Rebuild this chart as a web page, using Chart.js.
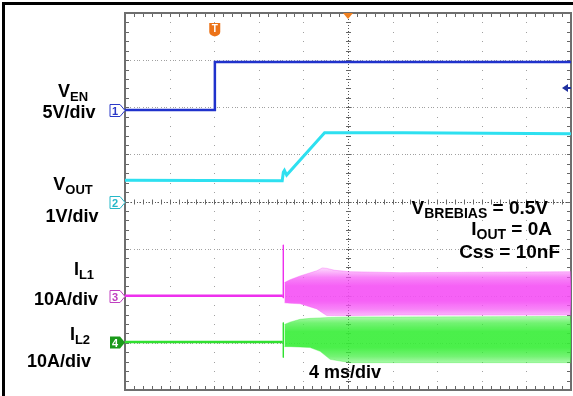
<!DOCTYPE html>
<html>
<head>
<meta charset="utf-8">
<script src="https://cdn.jsdelivr.net/npm/chart.js@4.4.1/dist/chart.umd.min.js"></script>
<style>
  html, body { margin: 0; padding: 0; background: #fff; }
  #wrap { width: 573px; height: 396px; }
</style>
</head>
<body>
<div id="wrap"><canvas id="chart" width="573" height="396"></canvas></div>
<script>
// time axis: 4 ms/div, 10 divisions
var TIME_MS = [0, 40];
var DIVS_Y = 8;

// channel 1: V_EN, 5 V/div
var VEN_T = [0, 8.05, 8.06, 40];
var VEN_V = [0, 0, 5.1, 5.1];

// channel 2: V_OUT, 1 V/div
var VOUT_T = [0, 14.1, 14.2, 14.3, 14.5, 17.9, 25, 40];
var VOUT_V = [0.45, 0.44, 0.62, 0.66, 0.56, 1.46, 1.46, 1.44];

// channel 3: I_L1, 10 A/div (flat part, spike, switching envelope)
var IL1_T = [0, 14.15];
var IL1_A = [0, 0];
var IL1_SPIKE_T = [14.2, 14.2];
var IL1_SPIKE_A = [10.8, -0.5];
var IL1_ENV_T  = [14.3, 14.8, 15.7, 17.2, 17.7, 18.1, 18.8, 20.2, 24.7, 40];
var IL1_HIGH_A = [2.8, 3.4, 4.2, 5.3, 5.9, 5.8, 5.4, 5.1, 4.9, 5.1];
var IL1_LOW_A  = [-1.5, -1.6, -1.7, -2.8, -3.6, -4.2, -4.2, -4.2, -4.1, -4.1];

// channel 4: I_L2, 10 A/div
var IL2_T = [0, 14.15];
var IL2_A = [0, 0];
var IL2_SPIKE_T = [14.2, 14.2];
var IL2_SPIKE_A = [4.1, -3.3];
var IL2_ENV_T  = [14.3, 14.8, 15.7, 16.6, 17.5, 18.4, 20.2, 24.7, 40];
var IL2_HIGH_A = [3.7, 4.2, 4.8, 5.0, 5.1, 5.2, 5.3, 5.3, 5.4];
var IL2_LOW_A  = [-1.0, -1.0, -1.1, -1.2, -2.0, -3.7, -4.4, -4.4, -4.4];

// per channel: units per division, ground position in divisions
var CH = {
  1: { perDiv: 5,  off: 5.94, color: '#2032cc', mark: '#2a38c8' },
  2: { perDiv: 1,  off: 4.0,  color: '#2ee0f0', mark: '#25b8c8' },
  3: { perDiv: 10, off: 2.0,  color: '#ee30ee', mark: '#c040c0' },
  4: { perDiv: 10, off: 1.02, color: '#30e030', mark: '#1a9a1a' }
};

function pts(ch, ts, vs) {
  return ts.map(function (t, i) { return { x: t, y: CH[ch].off + vs[i] / CH[ch].perDiv }; });
}

function trace(ch, ts, vs, w) {
  return { data: pts(ch, ts, vs), borderColor: CH[ch].color, borderWidth: w || 2.5,
           pointRadius: 0, tension: 0, fill: false };
}

// switching envelope: filled between high and low, fuzzy at the edges
function band(ch, ts, hi, lo, rgb) {
  var fillFn = function (c) {
    var chart = c.chart;
    if (!chart.chartArea) return 'rgba(' + rgb + ',0.8)';
    var ys = chart.scales.y;
    var top = ys.getPixelForValue(CH[ch].off + hi[hi.length - 1] / CH[ch].perDiv) - 3;
    var bot = ys.getPixelForValue(CH[ch].off + lo[lo.length - 1] / CH[ch].perDiv) + 3;
    var g = chart.ctx.createLinearGradient(0, top, 0, bot);
    g.addColorStop(0, 'rgba(' + rgb + ',0.25)');
    g.addColorStop(0.18, 'rgba(' + rgb + ',0.7)');
    g.addColorStop(0.35, 'rgba(' + rgb + ',0.9)');
    g.addColorStop(0.65, 'rgba(' + rgb + ',0.9)');
    g.addColorStop(0.82, 'rgba(' + rgb + ',0.7)');
    g.addColorStop(1, 'rgba(' + rgb + ',0.3)');
    return g;
  };
  return [
    { data: pts(ch, ts, hi), borderColor: 'rgba(' + rgb + ',0.35)', borderWidth: 1, pointRadius: 0, fill: false },
    { data: pts(ch, ts, lo), borderColor: 'rgba(' + rgb + ',0.35)', borderWidth: 1, pointRadius: 0,
      fill: '-1', backgroundColor: fillFn }
  ];
}

// oscilloscope graticule, markers and labels
var scopePlugin = {
  id: 'scope',
  beforeDatasetsDraw: function (chart) {
    var ctx = chart.ctx, a = chart.chartArea;
    var dx = (a.right - a.left) / 10, dy = (a.bottom - a.top) / DIVS_Y;
    ctx.save();
    ctx.fillStyle = '#a0a0a0';
    for (var i = 1; i < 10; i++) {
      var gx = a.left + i * dx;
      for (var yy = a.top; yy <= a.bottom; yy += dy / 5) ctx.fillRect(Math.round(gx), Math.round(yy), 1, 1);
    }
    for (var j = 1; j < DIVS_Y; j++) {
      var gy = a.top + j * dy;
      for (var xx = a.left; xx <= a.right; xx += dx / 5) {
        ctx.fillRect(Math.round(xx), Math.round(gy), 1, 1);
        ctx.fillRect(Math.round(xx) + 3, Math.round(gy), 1, 1);
        ctx.fillRect(Math.round(xx) + 5, Math.round(gy), 1, 1);
      }
    }
    // centre cross with ticks
    var cx = a.left + 5 * dx, cy = a.top + 4 * dy;
    ctx.fillStyle = '#555';
    for (var yy2 = a.top; yy2 <= a.bottom; yy2 += 3) ctx.fillRect(Math.round(cx), Math.round(yy2), 1, 1);
    for (var xx2 = a.left; xx2 <= a.right; xx2 += 3) ctx.fillRect(Math.round(xx2), Math.round(cy), 1, 1);
    ctx.strokeStyle = '#666'; ctx.lineWidth = 1;
    ctx.beginPath();
    for (var k = 0; k <= 50; k++) {
      var tx = Math.round(a.left + k * dx / 5) + 0.5;
      ctx.moveTo(tx, cy - 2); ctx.lineTo(tx, cy + 3);
      ctx.moveTo(tx, a.top); ctx.lineTo(tx, a.top + 4);
      ctx.moveTo(tx, a.bottom); ctx.lineTo(tx, a.bottom - 4);
    }
    for (var m = 0; m <= DIVS_Y * 5; m++) {
      var ty = Math.round(a.top + m * dy / 5) + 0.5;
      ctx.moveTo(cx - 2, ty); ctx.lineTo(cx + 3, ty);
      ctx.moveTo(a.left, ty); ctx.lineTo(a.left + 4, ty);
      ctx.moveTo(a.right, ty); ctx.lineTo(a.right - 4, ty);
    }
    ctx.stroke();
    ctx.strokeStyle = '#6e6e6e'; ctx.lineWidth = 2;
    ctx.strokeRect(a.left, a.top, a.right - a.left, a.bottom - a.top);
    ctx.restore();
  },
  afterDraw: function (chart) {
    var ctx = chart.ctx, a = chart.chartArea;
    var ys = chart.scales.y, xs = chart.scales.x;
    ctx.save();
    // outer black border
    ctx.strokeStyle = '#000'; ctx.lineWidth = 3;
    ctx.beginPath(); ctx.moveTo(3.5, 400); ctx.lineTo(3.5, 3.5); ctx.lineTo(580, 3.5); ctx.stroke();

    // channel ground markers
    function marker(ch, filled) {
      var y = Math.round(ys.getPixelForValue(CH[ch].off)) + 0.5;
      var x0 = a.left - 15, x1 = a.left - 5;
      ctx.beginPath();
      ctx.moveTo(x0, y - 6); ctx.lineTo(x1, y - 6); ctx.lineTo(a.left, y);
      ctx.lineTo(x1, y + 6); ctx.lineTo(x0, y + 6); ctx.closePath();
      ctx.lineWidth = 1;
      if (filled) { ctx.fillStyle = CH[ch].mark; ctx.fill(); }
      else { ctx.fillStyle = '#fff'; ctx.fill(); ctx.strokeStyle = CH[ch].mark; ctx.stroke(); }
      ctx.fillStyle = filled ? '#fff' : CH[ch].mark;
      ctx.font = 'bold 11px "Liberation Sans", Arial, sans-serif';
      ctx.textAlign = 'center'; ctx.textBaseline = 'middle';
      ctx.fillText(String(ch), x0 + 5, y + 1);
    }
    marker(1); marker(2); marker(3); marker(4, true);

    // trigger level arrow on the right
    ctx.fillStyle = '#1f30a0';
    ctx.beginPath();
    ctx.moveTo(a.right - 9, 88); ctx.lineTo(a.right - 3, 84); ctx.lineTo(a.right - 3, 92); ctx.closePath(); ctx.fill();
    ctx.fillRect(a.right - 4, 87, 4, 2);

    // horizontal position marker (centre, top)
    var cx = a.left + (a.right - a.left) / 2;
    ctx.fillStyle = '#f08020';
    ctx.beginPath(); ctx.moveTo(cx - 5, a.top); ctx.lineTo(cx + 5, a.top); ctx.lineTo(cx, a.top + 6); ctx.closePath(); ctx.fill();

    // trigger "T" marker
    var tx = xs.getPixelForValue(VEN_T[1]);
    ctx.fillStyle = '#ec7318';
    ctx.beginPath();
    ctx.moveTo(tx - 5.5, 23); ctx.lineTo(tx + 5.5, 23); ctx.lineTo(tx + 5.5, 32);
    ctx.quadraticCurveTo(tx + 5.5, 35, tx, 36.5); ctx.quadraticCurveTo(tx - 5.5, 35, tx - 5.5, 32);
    ctx.closePath(); ctx.fill();
    ctx.fillStyle = '#fff';
    ctx.font = 'bold 10px "Liberation Sans", Arial, sans-serif';
    ctx.textAlign = 'center'; ctx.textBaseline = 'middle';
    ctx.fillText('T', tx, 29);

    // labels with subscripts
    var F = '"Liberation Sans", Arial, sans-serif';
    function sub(parts, x, y, align, big, small) {
      ctx.textBaseline = 'alphabetic'; ctx.textAlign = 'left';
      var w = 0;
      parts.forEach(function (p) { ctx.font = 'bold ' + (p[1] ? small : big) + 'px ' + F; w += ctx.measureText(p[0]).width; });
      var cx0 = align === 'right' ? x - w : align === 'center' ? x - w / 2 : x;
      parts.forEach(function (p) {
        ctx.font = 'bold ' + (p[1] ? small : big) + 'px ' + F;
        ctx.fillText(p[0], cx0, y + (p[1] ? 4 : 0));
        cx0 += ctx.measureText(p[0]).width;
      });
    }
    ctx.fillStyle = '#000';
    sub([['V'], ['EN', 1]], 73, 97, 'center', 18, 13);
    sub([['5V/div']], 69, 118, 'center', 18, 13);
    sub([['V'], ['OUT', 1]], 73, 190, 'center', 18, 13);
    sub([['1V/div']], 72, 222, 'center', 18, 13);
    sub([['I'], ['L1', 1]], 84, 275, 'center', 18, 13);
    sub([['10A/div']], 66, 305, 'center', 18, 13);
    sub([['I'], ['L2', 1]], 80, 340, 'center', 18, 13);
    sub([['10A/div']], 59, 367, 'center', 18, 13);
    sub([['V'], ['BREBIAS', 1], [' = 0.5V']], 548, 214, 'right', 19, 14);
    sub([['I'], ['OUT', 1], [' = 0A']], 552, 235, 'right', 19, 14);
    sub([['Css = 10nF']], 560, 258, 'right', 19, 14);
    sub([['4 ms/div']], 345, 378, 'center', 18, 13);
    ctx.restore();
  }
};

var datasets = [].concat(
  band(3, IL1_ENV_T, IL1_HIGH_A, IL1_LOW_A, '245,80,245'),
  band(4, IL2_ENV_T, IL2_HIGH_A, IL2_LOW_A, '55,238,55'),
  [trace(3, IL1_T, IL1_A), trace(3, IL1_SPIKE_T, IL1_SPIKE_A, 1),
   trace(4, IL2_T, IL2_A), trace(4, IL2_SPIKE_T, IL2_SPIKE_A, 1),
   trace(2, VOUT_T, VOUT_V, 3), trace(1, VEN_T, VEN_V, 2.5)]
);

new Chart(document.getElementById('chart').getContext('2d'), {
  type: 'line',
  data: { datasets: datasets },
  options: {
    responsive: false,
    animation: false,
    layout: { padding: { left: 125, top: 13, right: 2, bottom: 6 } },
    plugins: { legend: { display: false }, tooltip: { enabled: false } },
    scales: {
      x: { type: 'linear', min: TIME_MS[0], max: TIME_MS[1], display: false },
      y: { type: 'linear', min: 0, max: DIVS_Y, display: false }
    }
  },
  plugins: [scopePlugin]
});
</script>
</body>
</html>
